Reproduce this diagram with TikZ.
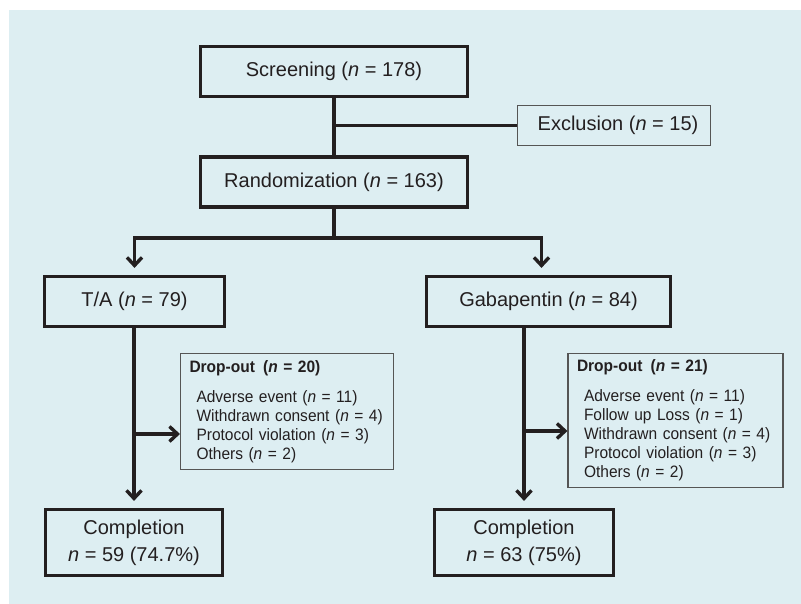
\documentclass[tikz,border=0pt]{standalone}
\usepackage{fontspec}
\setmainfont{Liberation Sans}
\newfontfamily\dropfont[FakeStretch=0.94]{Liberation Sans}
\usetikzlibrary{arrows.meta, positioning, calc}
\definecolor{bgblue}{RGB}{221,238,242}
\definecolor{inkgray}{RGB}{35,31,32}
\definecolor{framegray}{RGB}{85,85,85}

\begin{document}
\begin{tikzpicture}[x=1pt, y=-1pt, line width=3.4pt, draw=inkgray, text=inkgray,
    >={Straight Barb[length=8pt, width=15pt]},
    mainbox/.style={draw, line width=3.2pt, inner sep=0pt, minimum height=50pt,
                    align=center, font=\fontsize{20}{27}\selectfont},
    thinbox/.style={draw=framegray, line width=1.1pt, inner sep=0pt},
    dropbox/.style={thinbox, inner xsep=9pt, align=left,
                    font=\dropfont\fontsize{16.5}{19}\selectfont}]
    % background
    \fill[bgblue] (9,10) rectangle (801,604);
    \useasboundingbox (0,0) rectangle (801,604);
    % boxes
    \node[mainbox, minimum width=267pt] (screen) at (334,71.5)
          {Screening (\textit{n} = 178)};
    \node[thinbox, minimum width=193pt, minimum height=40pt,
          font=\fontsize{20}{24}\selectfont] (excl) at (614,125.5)
          {\hspace*{8pt}Exclusion (\textit{n} = 15)};
    \node[mainbox, minimum width=267pt] (rand) at (334,182)
          {Randomization (\textit{n} = 163)};
    \node[mainbox, minimum width=180pt] (ta) at (134.5,301.5)
          {T/A (\textit{n} = 79)};
    \node[mainbox, minimum width=244pt] (gaba) at (548.5,301.5)
          {Gabapentin (\textit{n} = 84)};
    \node[dropbox, text width=195pt, minimum height=116pt] (drop1) at (287,411.5)
          {{\bfseries Drop-out\enspace(\textit{n} = 20)}\\[11pt]
           \hspace*{7pt}Adverse event (\textit{n} = 11)\\
           \hspace*{7pt}Withdrawn consent (\textit{n} = 4)\\
           \hspace*{7pt}Protocol violation (\textit{n} = 3)\\
           \hspace*{7pt}Others (\textit{n} = 2)};
    \node[dropbox, text width=197pt, minimum height=134pt] (drop2) at (675.5,420.5)
          {{\bfseries Drop-out\enspace(\textit{n} = 21)}\\[11pt]
           \hspace*{7pt}Adverse event (\textit{n} = 11)\\
           \hspace*{7pt}Follow up Loss (\textit{n} = 1)\\
           \hspace*{7pt}Withdrawn consent (\textit{n} = 4)\\
           \hspace*{7pt}Protocol violation (\textit{n} = 3)\\
           \hspace*{7pt}Others (\textit{n} = 2)};
    \node[mainbox, minimum width=177pt, minimum height=66pt] (comp1) at (134,542.5)
          {Completion\\\textit{n} = 59 (74.7\%)};
    \node[mainbox, minimum width=179pt, minimum height=66pt] (comp2) at (524,542.5)
          {Completion\\\textit{n} = 63 (75\%)};
    % connectors
    \coordinate (split) at (334,238);
    \coordinate (d1) at ([yshift=-22.5pt]drop1.west);
    \coordinate (d2) at ([yshift=-10.5pt]drop2.west);
    \draw (screen) -- (rand);
    \draw (excl.west) -- (excl.west -| screen.south);
    \draw (rand) -- (split);
    \draw[->, shorten >=7pt] (split) -| (ta.north);
    \draw[->, shorten >=7pt] (split) -| ([xshift=-7pt]gaba.north);
    \draw[->, shorten >=7pt] (comp1.north |- ta.south) -- (comp1.north);
    \draw[->, shorten >=7pt] (comp2.north |- gaba.south) -- (comp2.north);
    \draw[->] (d1 -| comp1.north) -- (d1);
    \draw[->] (d2 -| comp2.north) -- (d2);
\end{tikzpicture}
\end{document}
